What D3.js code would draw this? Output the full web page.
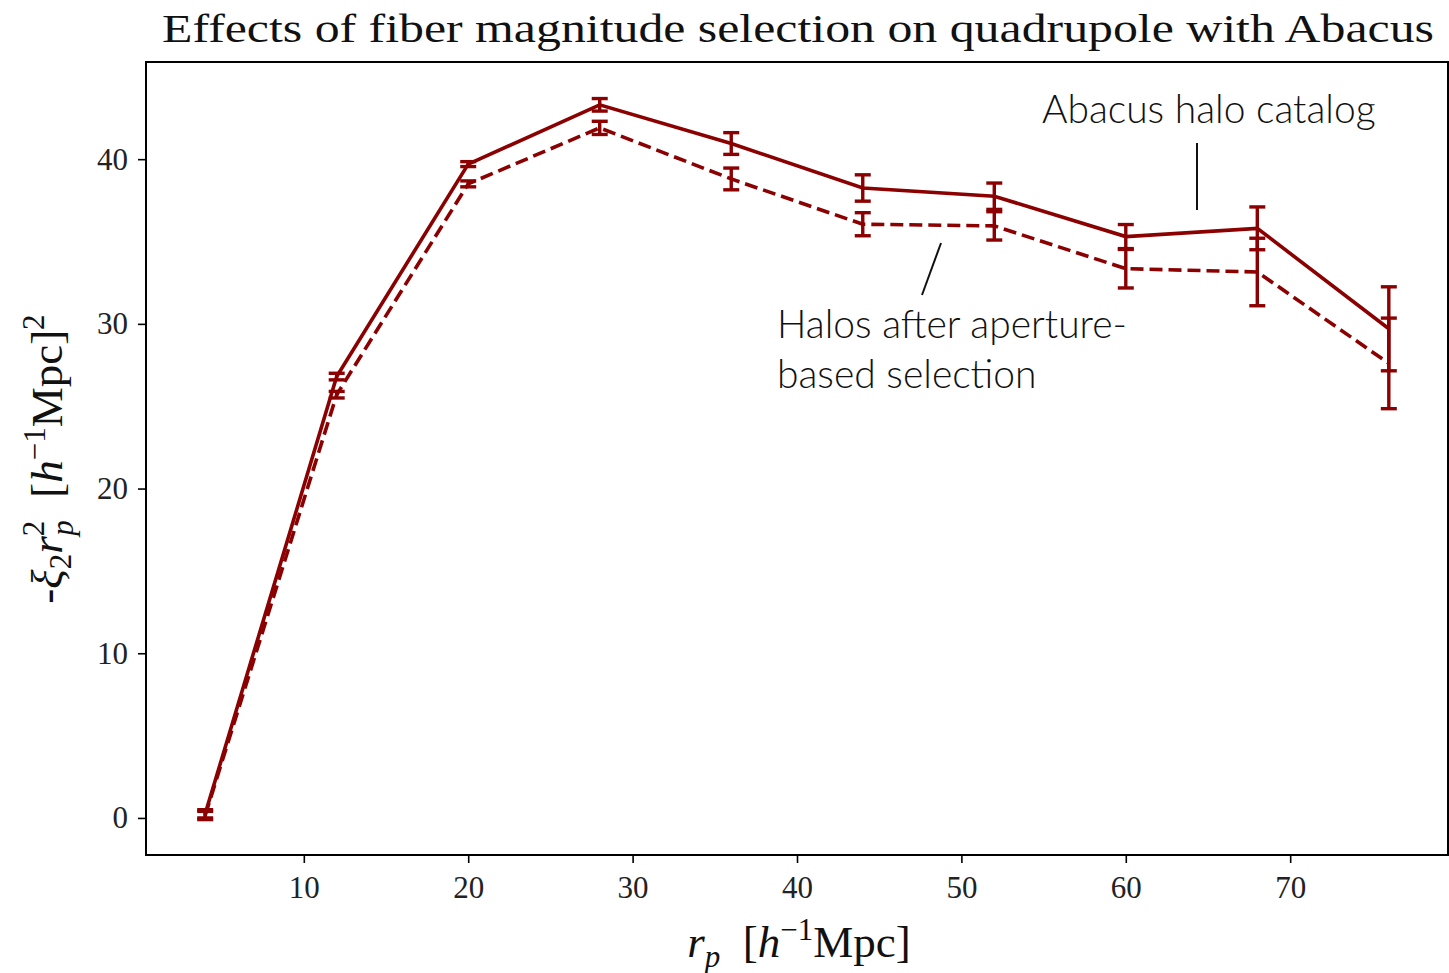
<!DOCTYPE html>
<html>
<head>
<meta charset="utf-8">
<script src="https://cdn.jsdelivr.net/npm/d3@7"></script>
<style>
  body { margin: 0; background: #fff; }
  svg { display: block; }
</style>
</head>
<body>
<script>
// data
var rp = [4, 12, 20, 28, 36, 44, 52, 60, 68, 76]
var haloVals = [0.25, 26.8, 39.7, 43.3, 40.95, 38.25, 37.75, 35.3, 35.8, 29.7]
var haloErrs = [0.25, 0.2, 0.15, 0.38, 0.66, 0.8, 0.8, 0.73, 1.3, 2.55]
var apVals = [0.15, 25.7, 38.5, 41.9, 38.8, 36.05, 35.95, 33.35, 33.15, 27.6]
var apErrs = [0.25, 0.2, 0.18, 0.4, 0.66, 0.7, 0.86, 1.17, 2.05, 2.75]
var xTicks = [10, 20, 30, 40, 50, 60, 70]
var yTicks = [0, 10, 20, 30, 40]

var W = 1449, H = 973
var margin = { top: 62, right: 1, bottom: 118, left: 146 }
var red = "#8b0000"
var serif = "'Liberation Serif', 'DejaVu Serif', serif"
var sans = "Lato, 'Open Sans', sans-serif"

var svg = d3.select("body").append("svg")
  .attr("width", W).attr("height", H)

var x = d3.scaleLinear().domain([0.4, 79.6]).range([margin.left, W - margin.right])
var y = d3.scaleLinear().domain([-2.25, 45.9]).range([H - margin.bottom, margin.top])

// series
var series = [
  { vals: haloVals, errs: haloErrs, dash: null },
  { vals: apVals, errs: apErrs, dash: "13,6" }
]

var line = d3.line()
  .x(function(d) { return x(d.x) })
  .y(function(d) { return y(d.v) })

series.forEach(function(s) {
  var pts = rp.map(function(r, i) { return { x: r, v: s.vals[i], e: s.errs[i] } })
  var g = svg.append("g")

  g.append("path")
    .datum(pts)
    .attr("d", line)
    .style("fill", "none")
    .style("stroke", red)
    .style("stroke-width", 3.6)
    .style("stroke-dasharray", s.dash)

  // error bars
  var eb = g.selectAll(".eb").data(pts).enter().append("g")
  eb.append("line")
    .attr("x1", function(d) { return x(d.x) }).attr("x2", function(d) { return x(d.x) })
    .attr("y1", function(d) { return y(d.v - d.e) }).attr("y2", function(d) { return y(d.v + d.e) })
    .style("stroke", red).style("stroke-width", 3.4)
  ;[-1, 1].forEach(function(sg) {
    eb.append("line")
      .attr("x1", function(d) { return x(d.x) - 8 }).attr("x2", function(d) { return x(d.x) + 8 })
      .attr("y1", function(d) { return y(d.v + sg * d.e) }).attr("y2", function(d) { return y(d.v + sg * d.e) })
      .style("stroke", red).style("stroke-width", 3.4)
  })
})

// frame
svg.append("rect")
  .attr("x", margin.left).attr("y", margin.top)
  .attr("width", W - margin.right - margin.left)
  .attr("height", H - margin.bottom - margin.top)
  .style("fill", "none").style("stroke", "#000").style("stroke-width", 2)

// axes
var xAxis = svg.append("g")
  .attr("transform", "translate(0," + (H - margin.bottom) + ")")
  .call(d3.axisBottom(x).tickValues(xTicks).tickSize(8).tickPadding(13))
var yAxis = svg.append("g")
  .attr("transform", "translate(" + margin.left + ",0)")
  .call(d3.axisLeft(y).tickValues(yTicks).tickSize(8).tickPadding(10))

;[xAxis, yAxis].forEach(function(a) {
  a.select(".domain").remove()
  a.selectAll(".tick line").style("stroke", "#000").style("stroke-width", 1.6)
  a.selectAll(".tick text")
    .style("font-family", serif)
    .style("font-size", "31px")
    .style("fill", "#222")
})

// title
svg.append("text")
  .attr("x", 798).attr("y", 42)
  .attr("text-anchor", "middle")
  .attr("textLength", 1272)
  .attr("lengthAdjust", "spacingAndGlyphs")
  .style("font-family", serif)
  .style("font-size", "40px")
  .style("fill", "#111")
  .text("Effects of fiber magnitude selection on quadrupole with Abacus")

// x label
var xl = svg.append("text")
  .attr("x", 799).attr("y", 957)
  .attr("text-anchor", "middle")
  .style("font-family", serif)
  .style("font-size", "45px")
  .style("fill", "#111")
xl.append("tspan").style("font-style", "italic").text("r")
xl.append("tspan").style("font-style", "italic").style("font-size", "31px").attr("dy", 10).text("p")
xl.append("tspan").attr("dy", -10).text("\u2002[")
xl.append("tspan").style("font-style", "italic").text("h")
xl.append("tspan").style("font-size", "31px").attr("dy", -17).text("\u22121")
xl.append("tspan").attr("dy", 17).text("Mpc]")

// y label
var yl = svg.append("text")
  .attr("transform", "translate(62,459) rotate(-90)")
  .attr("text-anchor", "middle")
  .style("font-family", serif)
  .style("font-size", "45px")
  .style("fill", "#111")
yl.append("tspan").text("-")
yl.append("tspan").style("font-style", "italic").text("\u03be")
yl.append("tspan").style("font-size", "31px").attr("dy", 9).text("2")
yl.append("tspan").style("font-style", "italic").attr("dy", -9).text("r")
yl.append("tspan").style("font-size", "31px").attr("dy", -18).text("2")
yl.append("tspan").style("font-style", "italic").style("font-size", "31px").attr("dx", -15).attr("dy", 29).text("p")
yl.append("tspan").attr("dy", -11).text("\u2002[")
yl.append("tspan").style("font-style", "italic").text("h")
yl.append("tspan").style("font-size", "31px").attr("dy", -17).text("\u22121")
yl.append("tspan").attr("dy", 17).text("Mpc]")
yl.append("tspan").style("font-size", "31px").attr("dy", -18).text("2")

// annotations
var annot = svg.append("g")
  .style("font-family", sans)
  .style("font-weight", 300)
  .style("font-size", "39px")
  .style("fill", "#111")
annot.append("text").attr("x", 1042).attr("y", 123).text("Abacus halo catalog")
annot.append("text").attr("x", 777).attr("y", 338).text("Halos after aperture-")
annot.append("text").attr("x", 777).attr("y", 388).text("based selection")

svg.append("line")
  .attr("x1", 1197).attr("y1", 143).attr("x2", 1197).attr("y2", 210)
  .style("stroke", "#111").style("stroke-width", 2)
svg.append("line")
  .attr("x1", 941).attr("y1", 243).attr("x2", 922).attr("y2", 295)
  .style("stroke", "#111").style("stroke-width", 2)
</script>
</body>
</html>
